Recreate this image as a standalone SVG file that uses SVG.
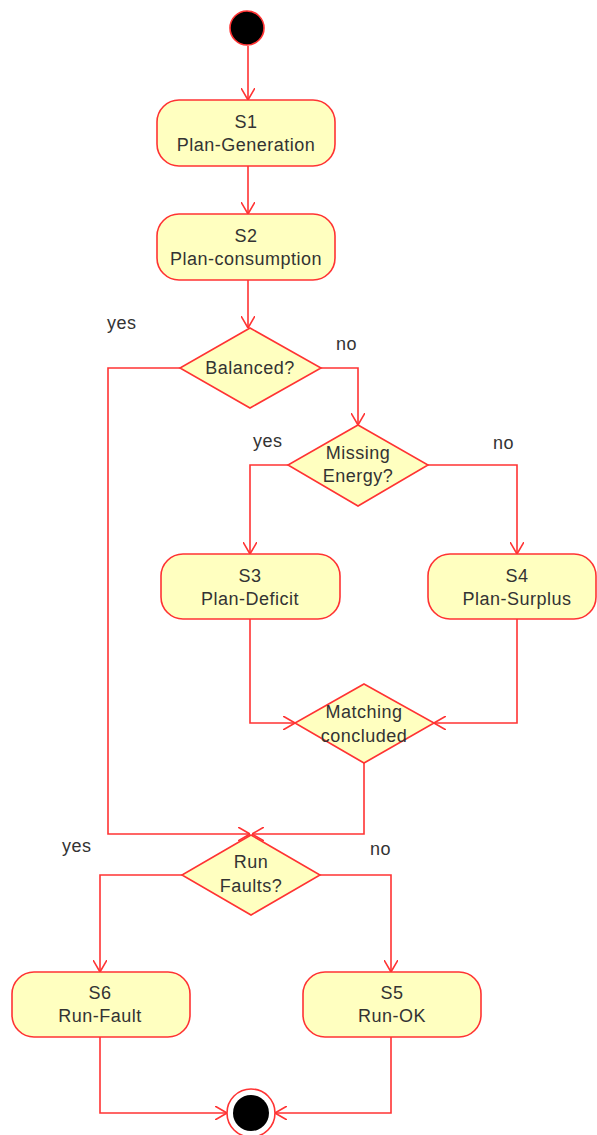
<svg xmlns="http://www.w3.org/2000/svg" width="597" height="1135" viewBox="0 0 597 1135">
  <defs>
    <style>
      .state { fill: #FFFFC0; stroke: #FF3333; stroke-width: 1.6; }
      .flow { fill: none; stroke: #FF3333; stroke-width: 1.6; }
      .lbl { font-family: "Liberation Sans", Arial, sans-serif; font-size: 18px; letter-spacing: 0.5px; fill: #333333; text-anchor: middle; }
      .guard { font-family: "Liberation Sans", Arial, sans-serif; font-size: 18px; letter-spacing: 0.5px; fill: #333333; }
    </style>
    <marker id="open" viewBox="0 0 12 14" refX="12" refY="7" markerWidth="12" markerHeight="14" markerUnits="userSpaceOnUse" orient="auto">
      <path d="M0,0 L12,7 L0,14" fill="none" stroke="#FF3333" stroke-width="1.6"/>
    </marker>
  </defs>
  <rect width="597" height="1135" fill="#FFFFFF"/>

  <!-- transitions -->
  <g id="connectors">
    <path class="flow" d="M248,46 V100" marker-end="url(#open)"/>
    <path class="flow" d="M248,166 V214" marker-end="url(#open)"/>
    <path class="flow" d="M248,280 V328" marker-end="url(#open)"/>
    <path class="flow" d="M180,368 H108 V834 H250" marker-end="url(#open)"/>
    <path class="flow" d="M321,368 H358 V425" marker-end="url(#open)"/>
    <path class="flow" d="M288,465 H250 V554" marker-end="url(#open)"/>
    <path class="flow" d="M428,465 H517 V554" marker-end="url(#open)"/>
    <path class="flow" d="M250,619 V723 H295" marker-end="url(#open)"/>
    <path class="flow" d="M517,619 V723 H434" marker-end="url(#open)"/>
    <path class="flow" d="M364,763 V834 H252" marker-end="url(#open)"/>
    <path class="flow" d="M182,875 H100 V972" marker-end="url(#open)"/>
    <path class="flow" d="M320,875 H391 V972" marker-end="url(#open)"/>
    <path class="flow" d="M100,1037 V1113 H227" marker-end="url(#open)"/>
    <path class="flow" d="M391,1037 V1113 H275" marker-end="url(#open)"/>
    <text class="guard" x="107" y="329">yes</text>
    <text class="guard" x="336" y="350">no</text>
    <text class="guard" x="253" y="447">yes</text>
    <text class="guard" x="493" y="449">no</text>
    <text class="guard" x="62" y="852">yes</text>
    <text class="guard" x="370" y="855">no</text>
  </g>

  <g id="start">
    <circle cx="247" cy="28" r="17" fill="#000000" stroke="#FF3333" stroke-width="1.6"/>
  </g>

  <g id="s1">
    <rect class="state" x="157" y="100" width="178" height="66" rx="22"/>
    <text class="lbl" x="246" y="128">S1</text>
    <text class="lbl" x="246" y="151">Plan-Generation</text>
  </g>

  <g id="s2">
    <rect class="state" x="157" y="214" width="178" height="66" rx="22"/>
    <text class="lbl" x="246" y="242">S2</text>
    <text class="lbl" x="246" y="265">Plan-consumption</text>
  </g>

  <g id="balanced">
    <polygon class="state" points="250,328 321,368 250,408 180,368"/>
    <text class="lbl" x="250" y="374">Balanced?</text>
  </g>

  <g id="missing-energy">
    <polygon class="state" points="358,425 428,465 358,506 288,465"/>
    <text class="lbl" x="358" y="459">Missing</text>
    <text class="lbl" x="358" y="482">Energy?</text>
  </g>

  <g id="s3">
    <rect class="state" x="161" y="554" width="179" height="65" rx="22"/>
    <text class="lbl" x="250" y="582">S3</text>
    <text class="lbl" x="250" y="605">Plan-Deficit</text>
  </g>

  <g id="s4">
    <rect class="state" x="428" y="554" width="168" height="65" rx="22"/>
    <text class="lbl" x="517" y="582">S4</text>
    <text class="lbl" x="517" y="605">Plan-Surplus</text>
  </g>

  <g id="matching">
    <polygon class="state" points="364,684 434,723 364,763 295,723"/>
    <text class="lbl" x="364" y="718">Matching</text>
    <text class="lbl" x="364" y="742">concluded</text>
  </g>

  <g id="run-faults">
    <polygon class="state" points="251,835 320,875 251,915 182,875"/>
    <text class="lbl" x="251" y="868">Run</text>
    <text class="lbl" x="251" y="892">Faults?</text>
  </g>

  <g id="s6">
    <rect class="state" x="12" y="972" width="178" height="65" rx="22"/>
    <text class="lbl" x="100" y="999">S6</text>
    <text class="lbl" x="100" y="1022">Run-Fault</text>
  </g>

  <g id="s5">
    <rect class="state" x="303" y="972" width="178" height="65" rx="22"/>
    <text class="lbl" x="392" y="999">S5</text>
    <text class="lbl" x="392" y="1022">Run-OK</text>
  </g>

  <g id="end">
    <circle cx="251" cy="1113" r="24" fill="#FFFFFF" stroke="#FF3333" stroke-width="1.6"/>
    <circle cx="251" cy="1113" r="18" fill="#000000"/>
  </g>
</svg>
